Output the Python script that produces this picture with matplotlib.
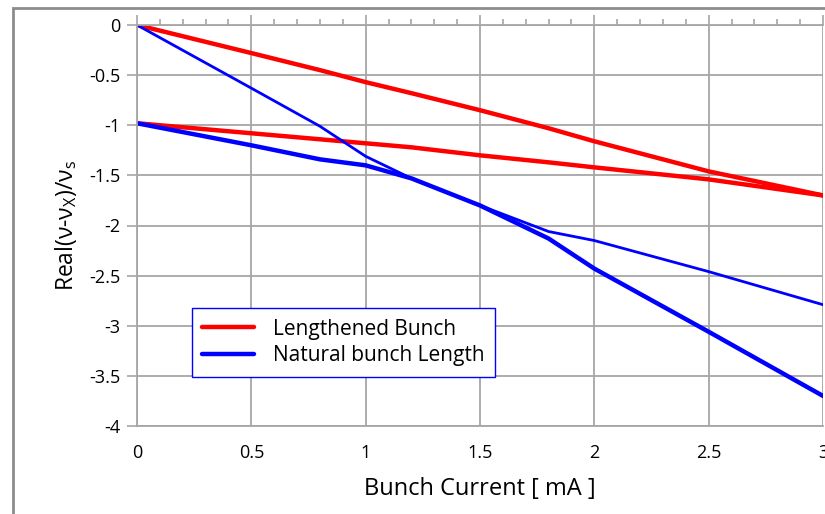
import numpy as np
import matplotlib.pyplot as plt
from matplotlib.patches import Rectangle
from matplotlib.ticker import MultipleLocator

plt.rcParams['font.family'] = ['Open Sans', 'DejaVu Sans']
plt.rcParams['mathtext.fontset'] = 'custom'
plt.rcParams['mathtext.rm'] = 'Open Sans'

# bunch current [mA]
x_pts = [0, 0.5, 0.8, 1.0, 1.2, 1.5, 1.8, 2.0, 2.5, 3.0]

# lengthened bunch (red)
red_a = [0, -0.28, -0.45, -0.57, -0.68, -0.85, -1.03, -1.16, -1.46, -1.70]
red_b = [-0.98, -1.08, -1.14, -1.18, -1.22, -1.30, -1.37, -1.42, -1.54, -1.70]

# natural bunch length (blue)
blue_a = [0, -0.63, -1.01, -1.31, -1.53, -1.80, -2.06, -2.15, -2.46, -2.79]
blue_b = [-0.98, -1.20, -1.34, -1.40, -1.53, -1.80, -2.13, -2.43, -3.06, -3.70]

grid_c = '#a6a6a6'

fig = plt.figure(figsize=(8.25, 5.14), dpi=100)
ax = fig.add_axes([137/825, 1 - 426/514, (823 - 137)/825, (426 - 25)/514])

fig.patches.append(Rectangle((13/825, -0.1), 1.0, 1 - 8/514 + 0.1,
                             transform=fig.transFigure, fill=False,
                             edgecolor='#8c8c8c', lw=2))

ax.plot(x_pts, red_a, color='#ff0000', lw=3.2, solid_capstyle='round')
ax.plot(x_pts, red_b, color='#ff0000', lw=3.2, solid_capstyle='round')
ax.plot(x_pts, blue_a, color='#0000ff', lw=2.0, solid_capstyle='round')
ax.plot(x_pts, blue_b, color='#0000ff', lw=3.2, solid_capstyle='round')

ax.set_xlim(0, 3)
ax.set_ylim(-4, 0)
ax.xaxis.set_minor_locator(MultipleLocator(0.1))
ax.set_xticks([0, 0.5, 1, 1.5, 2, 2.5, 3])
ax.set_xticklabels(['0', '0.5', '1', '1.5', '2', '2.5', '3'])
ax.set_yticks([0, -0.5, -1, -1.5, -2, -2.5, -3, -3.5, -4])
ax.set_yticklabels(['0', '-0.5', '-1', '-1.5', '-2', '-2.5', '-3', '-3.5', '-4'])

ax.grid(True, color=grid_c, lw=1.3)
ax.set_axisbelow(True)
for s in ['left', 'bottom', 'top']:
    ax.spines[s].set_color(grid_c)
    ax.spines[s].set_linewidth(1.3)
ax.spines['right'].set_visible(False)

ax.tick_params(axis='x', which='both', top=True, bottom=False,
               labeltop=False, labelbottom=True, color=grid_c, width=1.2)
ax.tick_params(axis='x', which='major', length=7, pad=6, labelsize=13)
ax.tick_params(axis='x', which='minor', length=4)
ax.tick_params(axis='y', length=7, color=grid_c, width=1.2, labelsize=13, pad=5)

ax.set_xlabel('Bunch Current [ mA ]', fontsize=17, labelpad=11)
ax.set_ylabel('Real(ν-ν$_\\mathregular{X}$)/ν$_\\mathregular{s}$', fontsize=16.5, labelpad=7)

leg = ax.legend(['Lengthened Bunch', 'Natural bunch Length'], loc='upper left',
                bbox_to_anchor=(0.08, 0.294), borderaxespad=0, fontsize=15,
                frameon=True, fancybox=False, edgecolor='#0000ff',
                handlelength=2.5, borderpad=0.5, handletextpad=0.9,
                labelspacing=0.28)
handles = leg.legend_handles
handles[0].set_color('#ff0000')
handles[1].set_color('#0000ff')
handles[0].set_linewidth(3.2)
handles[1].set_linewidth(3.2)
leg.get_frame().set_linewidth(1.0)
leg.get_frame().set_alpha(1)

fig.savefig('out.png', dpi=100)
